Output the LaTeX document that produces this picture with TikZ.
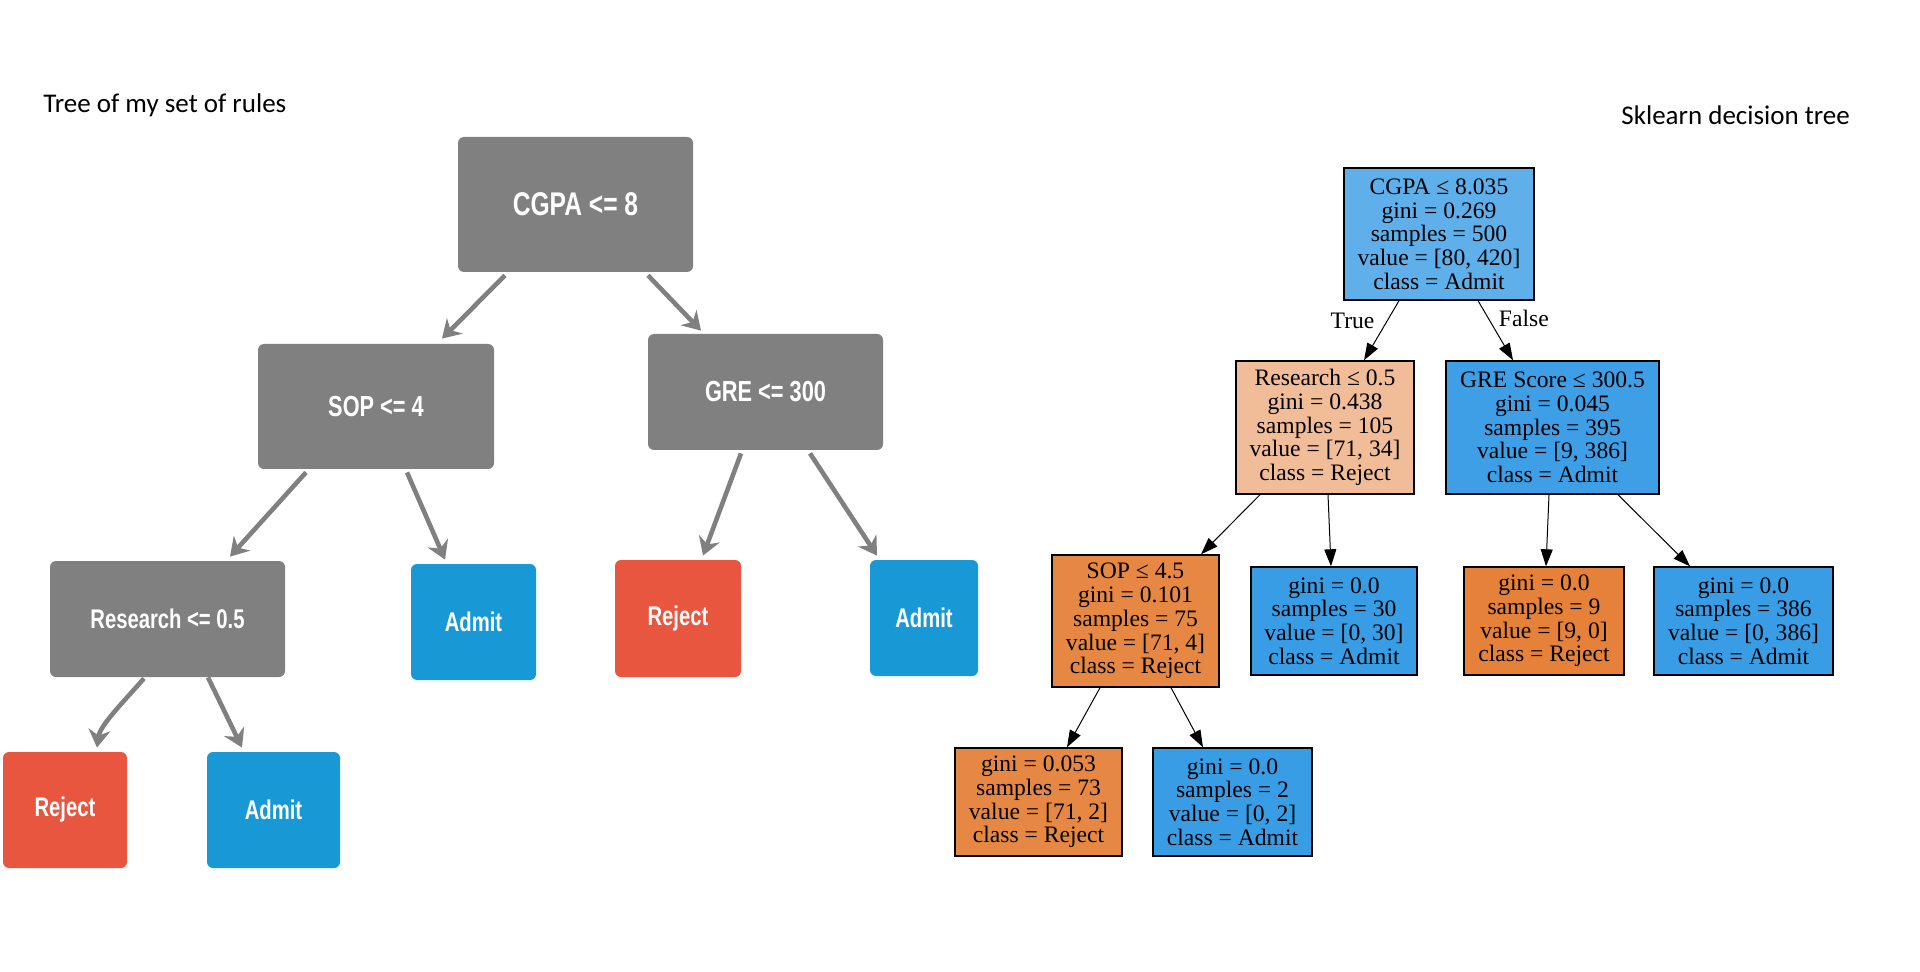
\documentclass[tikz,border=0pt]{standalone}
\usepackage{fontspec}
\setmainfont{Liberation Serif}
\newfontfamily\titlefont{Carlito}
\newfontfamily\rulefont[FakeStretch=0.75]{Liberation Sans}
\usepackage{tikz}
\usetikzlibrary{calc}
\usetikzlibrary{positioning}
\usetikzlibrary{arrows.meta}

\definecolor{rulegray}{HTML}{808080}
\definecolor{rulered}{HTML}{E8563F}
\definecolor{ruleblue}{HTML}{1899D5}
\definecolor{skroot}{RGB}{95,176,234}
\definecolor{skpeach}{RGB}{241,189,152}
\definecolor{skblue}{RGB}{62,159,230}
\definecolor{skleafblue}{RGB}{57,157,229}
\definecolor{skorange}{RGB}{230,136,68}
\definecolor{skleaforange}{RGB}{229,129,57}

\tikzset{
  rulebox/.style={rectangle,rounded corners=3pt,text=white,inner sep=0pt},
  ruleedge/.style={draw=rulegray,line width=2.3pt,-{Stealth[length=9pt,width=11pt,inset=3pt]}},
  skbox/.style={rectangle,draw=black,line width=0.7pt,align=center,inner sep=0pt,font={\fontsize{11.8}{11.85}\selectfont}},
  sklabel/.style={inner sep=0pt,font={\fontsize{11.8}{11.85}\selectfont}},
  skedge/.style={draw=black,line width=0.5pt,-{Triangle[length=8.5pt,width=6pt]}},
  titletext/.style={anchor=base west,inner sep=0pt,font={\titlefont\fontsize{13.5}{16}\selectfont}},
}

\begin{document}
\begin{tikzpicture}[x=0.5pt,y=-0.5pt]
\useasboundingbox (0,0) rectangle (1920,972);

\node[titletext] (rules title) at (43,113) {Tree of my set of rules};
\node[titletext] (sk title) at (1621,125) {Sklearn decision tree};

% my rules
\node[rulebox,fill=rulegray,minimum width=117.5pt,minimum height=67.5pt,font={\rulefont\bfseries\fontsize{16.4}{18}\selectfont}] (cgpa) at (575.5,204.5) {CGPA <= 8};
\node[rulebox,fill=rulegray,minimum width=118pt,minimum height=62.5pt,font={\rulefont\bfseries\fontsize{14.5}{16}\selectfont}] (sop) at (376,406.5) {SOP <= 4};
\node[rulebox,fill=rulegray,minimum width=117.5pt,minimum height=58pt,font={\rulefont\bfseries\fontsize{14.5}{16}\selectfont}] (gre) at (765.5,392) {GRE <= 300};
\node[rulebox,fill=rulegray,minimum width=117.5pt,minimum height=58pt,font={\rulefont\bfseries\fontsize{13.5}{15}\selectfont}] (research) at (167.5,619) {Research <= 0.5};
\node[rulebox,fill=ruleblue,minimum width=62.5pt,minimum height=58pt,font={\rulefont\bfseries\fontsize{13.5}{15}\selectfont}] (admit a) at (473.5,622) {Admit};
\node[rulebox,fill=rulered,minimum width=63pt,minimum height=58.5pt,font={\rulefont\bfseries\fontsize{13.5}{15}\selectfont}] (reject a) at (678,618.5) {Reject};
\node[rulebox,fill=ruleblue,minimum width=54pt,minimum height=58pt,font={\rulefont\bfseries\fontsize{13.5}{15}\selectfont}] (admit b) at (924,618) {Admit};
\node[rulebox,fill=rulered,minimum width=62pt,minimum height=58pt,font={\rulefont\bfseries\fontsize{13.5}{15}\selectfont}] (reject b) at (65,810) {Reject};
\node[rulebox,fill=ruleblue,minimum width=66.5pt,minimum height=58pt,font={\rulefont\bfseries\fontsize{13.5}{15}\selectfont}] (admit c) at (273.5,810) {Admit};

\draw[ruleedge] ($(cgpa.south)+(-70.5,3)$) -- ($(sop.north)+(66,-5)$);
\draw[ruleedge] ($(cgpa.south)+(72.5,3)$) -- ($(gre.north)+(-64.5,-3)$);
\draw[ruleedge] ($(sop.south)+(-70,3)$) -- ($(research.north)+(62.5,-4)$);
\draw[ruleedge] ($(sop.south)+(31,3)$) -- ($(admit a.north)+(-28.5,-4)$);
\draw[ruleedge] ($(gre.south)+(-24.5,3)$) -- ($(reject a.north)+(25,-4)$);
\draw[ruleedge] ($(gre.south)+(44.5,3)$) -- ($(admit b.north)+(-47,-4)$);
\draw[ruleedge] ($(research.south)+(-23.5,1)$) .. controls +(-22,25) and +(3,-22) .. ($(reject b.north)+(32,-4)$);
\draw[ruleedge] ($(research.south)+(40.5,0)$) -- ($(admit c.north)+(-31.5,-4)$);

% sklearn tree
\node[skbox,fill=skroot,minimum width=95pt,minimum height=66pt] (root) at (1439,234) {CGPA ≤ 8.035\\gini = 0.269\\samples = 500\\value = [80, 420]\\class = Admit};
\node[skbox,fill=skpeach,minimum width=89pt,minimum height=66.5pt] (research2) at (1325,427.5) {Research ≤ 0.5\\gini = 0.438\\samples = 105\\value = [71, 34]\\class = Reject};
\node[skbox,fill=skblue,minimum width=106.5pt,minimum height=66.5pt] (gre2) at (1552.5,427.5) {GRE Score ≤ 300.5\\gini = 0.045\\samples = 395\\value = [9, 386]\\class = Admit};
\node[skbox,fill=skorange,minimum width=83.5pt,minimum height=66pt] (sop2) at (1135.5,621) {SOP ≤ 4.5\\gini = 0.101\\samples = 75\\value = [71, 4]\\class = Reject};
\node[skbox,fill=skleafblue,minimum width=83pt,minimum height=54pt] (leaf30) at (1334,621) {gini = 0.0\\samples = 30\\value = [0, 30]\\class = Admit};
\node[skbox,fill=skleaforange,minimum width=80pt,minimum height=54pt] (leaf9) at (1544,621) {gini = 0.0\\samples = 9\\value = [9, 0]\\class = Reject};
\node[skbox,fill=skleafblue,minimum width=89.5pt,minimum height=54pt] (leaf386) at (1743.5,621) {gini = 0.0\\samples = 386\\value = [0, 386]\\class = Admit};
\node[skbox,fill=skorange,minimum width=83.5pt,minimum height=54pt] (leaf73) at (1038.5,802) {gini = 0.053\\samples = 73\\value = [71, 2]\\class = Reject};
\node[skbox,fill=skleafblue,minimum width=79.5pt,minimum height=54pt] (leaf2) at (1232.5,802) {gini = 0.0\\samples = 2\\value = [0, 2]\\class = Admit};

\draw[skedge] ($(root.south)+(-40,0)$) -- node[sklabel,pos=0.46,anchor=base east,xshift=-4pt] {True} ($(research2.north)+(39,0)$);
\draw[skedge] ($(root.south)+(39,0)$) -- node[sklabel,pos=0.44,anchor=base west,xshift=2.5pt] {False} ($(gre2.north)+(-39.5,0)$);
\draw[skedge] ($(research2.south)+(-65,0)$) -- ($(sop2.north)+(65.5,0)$);
\draw[skedge] ($(research2.south)+(3,0)$) -- ($(leaf30.north)+(-3,0)$);
\draw[skedge] ($(gre2.south)+(-3.5,0)$) -- ($(leaf9.north)+(2,0)$);
\draw[skedge] ($(gre2.south)+(65.5,0)$) -- ($(leaf386.north)+(-53.5,0)$);
\draw[skedge] ($(sop2.south)+(-35.5,0)$) -- ($(leaf73.north)+(28.5,0)$);
\draw[skedge] ($(sop2.south)+(35.5,0)$) -- ($(leaf2.north)+(-29.5,0)$);
\end{tikzpicture}
\end{document}
